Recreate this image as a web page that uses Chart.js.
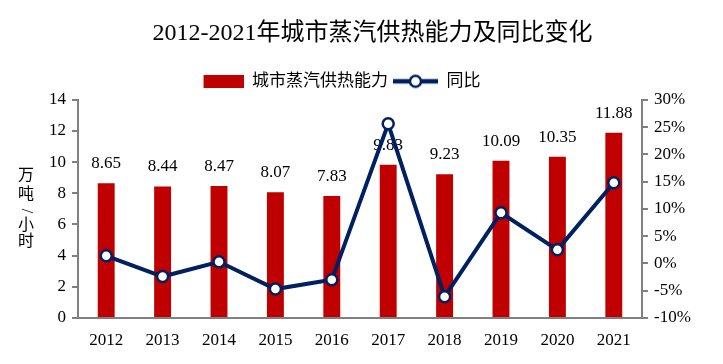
<!DOCTYPE html>
<html>
<head>
<meta charset="utf-8">
<title>城市蒸汽供热能力</title>
<script src="https://cdn.jsdelivr.net/npm/chart.js@4.4.0/dist/chart.umd.min.js"></script>
<style>
    html, body { margin: 0; padding: 0; background: #fff; }
    #wrap { width: 723px; height: 364px; }
</style>
</head>
<body>
<div id="wrap"><canvas id="chart" width="723" height="364"></canvas></div>
<script>
// Data
const years = ['2012', '2013', '2014', '2015', '2016', '2017', '2018', '2019', '2020', '2021'];
const capacity = [8.65, 8.44, 8.47, 8.07, 7.83, 9.83, 9.23, 10.09, 10.35, 11.88];
const yoy = [1.4, -2.4, 0.3, -4.7, -3.0, 25.6, -6.1, 9.3, 2.5, 14.8];
const leftRange = [0, 14, 2];
const rightRange = [-10, 30, 5];
const titleText = '2012-2021年城市蒸汽供热能力及同比变化';
const seriesNames = ['城市蒸汽供热能力', '同比'];
const leftAxisTitle = ['万', '吨', '/', '小', '时'];

const barColor = '#C00000';
const lineColor = '#002060';
const axisColor = '#808080';
const serif = "'Liberation Serif', 'Times New Roman', 'Noto Sans CJK SC', serif";

// Legend markers (same width so the text gaps stay even)
function makeBarMarker() {
    const c = document.createElement('canvas');
    c.width = 45; c.height = 13;
    const g = c.getContext('2d');
    g.fillStyle = barColor;
    g.fillRect(5, 0, 40, 13);
    return c;
}

function makeLineMarker() {
    const c = document.createElement('canvas');
    c.width = 45; c.height = 16;
    const g = c.getContext('2d');
    g.strokeStyle = lineColor;
    g.lineWidth = 4.5;
    g.beginPath();
    g.moveTo(0, 8); g.lineTo(45, 8);
    g.stroke();
    g.beginPath();
    g.arc(22.5, 8, 5.5, 0, Math.PI * 2);
    g.fillStyle = '#fff';
    g.fill();
    g.lineWidth = 2.5;
    g.stroke();
    return c;
}

const barMarker = makeBarMarker();
const lineMarker = makeLineMarker();

// The reference has its title a bit right of centre and its legend a bit left
const nudge = {
    id: 'nudge',
    afterLayout(chart) {
        if (chart.titleBlock) { chart.titleBlock.left += 11; chart.titleBlock.right += 11; }
        if (chart.legend) { chart.legend.left -= 22; chart.legend.right -= 22; }
    }
};

// Values above the bars, drawn before the line so the line sits on top
const barLabels = {
    id: 'barLabels',
    afterDatasetDraw(chart, args) {
        if (args.index !== 0) return;
        const ctx = chart.ctx;
        ctx.save();
        ctx.font = '17px ' + serif;
        ctx.fillStyle = '#000';
        ctx.textAlign = 'center';
        ctx.textBaseline = 'alphabetic';
        args.meta.data.forEach((bar, i) => {
            ctx.fillText(capacity[i].toFixed(2), bar.x, bar.y - 15);
        });
        ctx.restore();
    }
};

// Upright stacked title for the left axis
const leftTitle = {
    id: 'leftTitle',
    afterDraw(chart) {
        const ctx = chart.ctx;
        const area = chart.chartArea;
        const mid = (area.top + area.bottom) / 2;
        const offsets = [-33, -14, 2, 17, 33];
        ctx.save();
        ctx.font = '16px ' + serif;
        ctx.fillStyle = '#000';
        ctx.textAlign = 'center';
        ctx.textBaseline = 'middle';
        leftAxisTitle.forEach((ch, i) => {
            ctx.save();
            ctx.translate(26, mid + offsets[i]);
            if (ch === '/') ctx.rotate(Math.PI / 2);
            ctx.fillText(ch, 0, 0);
            ctx.restore();
        });
        ctx.restore();
    }
};

const ctx = document.getElementById('chart').getContext('2d');
const chart = new Chart(ctx, {
    data: {
        labels: years,
        datasets: [
            {
                type: 'bar',
                label: seriesNames[0],
                data: capacity,
                backgroundColor: barColor,
                barPercentage: 0.3,
                categoryPercentage: 1,
                yAxisID: 'y',
                order: 2
            },
            {
                type: 'line',
                label: seriesNames[1],
                data: yoy,
                borderColor: lineColor,
                borderWidth: 4,
                pointRadius: 5.5,
                pointBackgroundColor: '#fff',
                pointBorderColor: lineColor,
                pointBorderWidth: 2.5,
                tension: 0,
                yAxisID: 'y1',
                order: 1
            }
        ]
    },
    options: {
        responsive: false,
        animation: false,
        layout: { padding: 0 },
        plugins: {
            title: {
                display: true,
                text: titleText,
                color: '#000',
                font: { family: serif, size: 24, weight: 'normal' },
                padding: { top: 19, bottom: 20 }
            },
            legend: {
                display: true,
                labels: {
                    usePointStyle: true,
                    pointStyleWidth: 45,
                    padding: 5,
                    color: '#000',
                    font: { family: serif, size: 17 },
                    generateLabels: () => [
                        { text: seriesNames[0], pointStyle: barMarker, datasetIndex: 0, fontColor: '#000' },
                        { text: seriesNames[1], pointStyle: lineMarker, datasetIndex: 1, fontColor: '#000' }
                    ]
                }
            },
            tooltip: { enabled: false }
        },
        scales: {
            x: {
                grid: { display: false, drawTicks: false },
                border: { color: axisColor, width: 2 },
                ticks: { color: '#000', padding: 12, font: { family: serif, size: 17 } },
                afterFit: (s) => { s.height = 46; }
            },
            y: {
                position: 'left',
                min: leftRange[0],
                max: leftRange[1],
                grid: { drawOnChartArea: false, drawTicks: true, tickLength: 6, color: axisColor, lineWidth: 2 },
                border: { color: axisColor, width: 2 },
                ticks: { stepSize: leftRange[2], color: '#000', padding: 6, font: { family: serif, size: 17 } },
                afterFit: (s) => { s.width = 78; }
            },
            y1: {
                position: 'right',
                min: rightRange[0],
                max: rightRange[1],
                grid: { drawOnChartArea: false, drawTicks: true, tickLength: 6, color: axisColor, lineWidth: 2 },
                border: { color: axisColor, width: 2 },
                ticks: {
                    stepSize: rightRange[2],
                    color: '#000',
                    padding: 6,
                    font: { family: serif, size: 17 },
                    callback: (v) => v + '%'
                },
                afterFit: (s) => { s.width = 81; }
            }
        }
    },
    plugins: [nudge, barLabels, leftTitle]
});
</script>
</body>
</html>
